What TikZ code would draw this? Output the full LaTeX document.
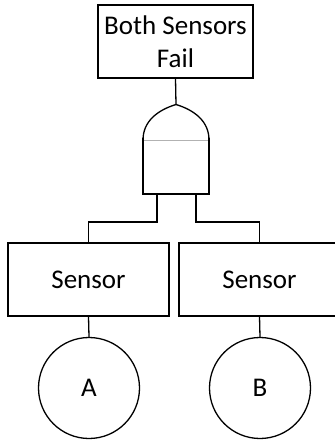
\documentclass[tikz,border=0pt]{standalone}
\usepackage{fontspec}
\setmainfont{Carlito}
\begin{document}
\begin{tikzpicture}[x=1pt,y=-1pt,
  line width=1.3pt,
  evbox/.style={draw, line width=1.3pt, inner sep=0pt, align=center,
    font=\fontsize{27}{33}\selectfont},
  basic/.style={draw, circle, line width=1.3pt, minimum size=101pt, inner sep=0pt,
    font=\fontsize{27}{33}\selectfont}]
\useasboundingbox (0,0) rectangle (334,443);
% top event
\node[evbox, minimum width=155pt, minimum height=73pt] (top) at (175.5,41.5) {Both Sensors\\Fail};
% AND gate
\coordinate (apex) at (176,104.5);
\coordinate (gl) at (157,194);
\coordinate (gr) at (196,194);
\draw[line width=1.3pt] (143,140) .. controls (143,121) and (158,110) .. (apex)
   .. controls (194,110) and (209,121) .. (209,140)
   -- (209,194) -- (143,194) -- cycle;
\draw[line width=1.3pt, white] (143.8,140) -- (208.2,140);
\draw[line width=0.8pt, black!30] (143.8,140) -- (208.2,140);
\draw[line width=1.3pt] (143,138) -- (143,194) -- (209,194) -- (209,138);
% intermediate events
\node[evbox, minimum width=161pt, minimum height=73pt] (s1) at (88.5,279.5) {Sensor};
\node[evbox, minimum width=161pt, minimum height=73pt] (s2) at (259.5,279.5) {Sensor};
% basic events
\node[basic] (a) at (89,388) {A};
\node[basic] (b) at (260,388) {B};
% connectors
\draw (top.south) -- (apex);
\draw (gl) -- ++(0,28) -| (s1.north);
\draw (gr) -- ++(0,28) -| (s2.north);
\draw (s1.south) -- (a.north);
\draw (s2.south) -- (b.north);
\end{tikzpicture}
\end{document}
